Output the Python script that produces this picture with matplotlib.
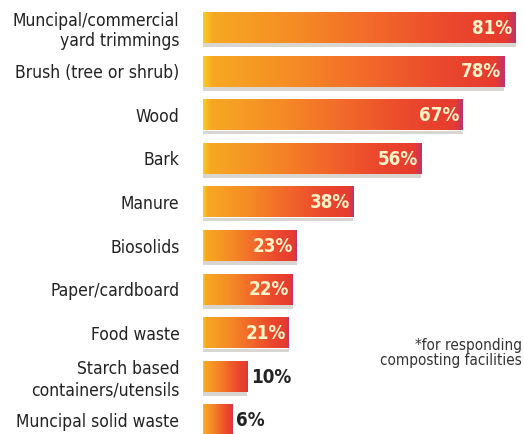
import matplotlib
matplotlib.use('Agg')
import matplotlib.pyplot as plt
import numpy as np
from matplotlib import font_manager
from matplotlib.colors import LinearSegmentedColormap

categories = ['Muncipal/commercial\nyard trimmings', 'Brush (tree or shrub)', 'Wood', 'Bark',
              'Manure', 'Biosolids', 'Paper/cardboard', 'Food waste',
              'Starch based\ncontainers/utensils', 'Muncipal solid waste']
values = [81, 78, 67, 56, 38, 23, 22, 21, 10, 6]
labels = ['81%', '78%', '67%', '56%', '38%', '23%', '22%', '21%', '10%', '6%']
footnote = '*for responding\ncomposting facilities'

# pick a narrow face if one is installed
names = {f.name for f in font_manager.fontManager.ttflist}
stretches = {(f.name, f.stretch) for f in font_manager.fontManager.ttflist}
if 'Liberation Sans Narrow' in names:
    plt.rcParams['font.family'] = ['Liberation Sans Narrow', 'DejaVu Sans']
elif ('DejaVu Sans', 'condensed') in stretches or ('DejaVu Sans', 300) in stretches:
    plt.rcParams['font.family'] = ['DejaVu Sans']
    plt.rcParams['font.stretch'] = 'condensed'
else:
    plt.rcParams['font.family'] = ['Roboto', 'DejaVu Sans']

fig = plt.figure(figsize=(5.24, 4.34), dpi=100)
ax = fig.add_axes([203 / 524, 0, 321 / 524, 1])

y = np.arange(len(values))
x0 = -1.75  # bars start slightly left of zero in the original
height = 0.71
cmap = LinearSegmentedColormap.from_list(
    'grad', [(0.0, '#f8cc22'), (0.03, '#f7a822'), (0.3, '#f58b25'), (0.55, '#f2682a'),
             (0.8, '#eb472d'), (0.97, '#e63b2f'), (1.0, '#c0346a')])
grad = np.linspace(0, 1, 256).reshape(1, -1)

# dotted grey shadow strip under each bar
ax.barh(y + height / 2 + 0.05, np.array(values) - x0, left=x0, height=0.08,
        color='#d9d6d2', zorder=1)

bars = ax.barh(y, np.array(values) - x0, left=x0, height=height,
               color='none', zorder=2)
for bar in bars:
    bx, by = bar.get_x(), bar.get_y()
    im = ax.imshow(grad, extent=[bx, bx + bar.get_width(), by, by + bar.get_height()],
                   aspect='auto', cmap=cmap, zorder=2, interpolation='bilinear')
    im.set_clip_path(bar)

for yi, v, lab in zip(y, values, labels):
    if v > 15:
        ax.text(v - 0.9, yi + 0.02, lab, ha='right', va='center', fontsize=13.5,
                fontweight='bold', color='#fff3c8', zorder=3)
    else:
        ax.text(v + 1.0, yi + 0.02, lab, ha='left', va='center', fontsize=13.5,
                fontweight='bold', color='#222222', zorder=3)

ax.set_xlim(x0, x0 + 321 / 3.78)
ax.set_ylim((434 - 27.5) / 43.6, -27.5 / 43.6)
ax.set_yticks(y)
ax.set_yticklabels(categories, fontsize=12.5, color='#222222')
ax.tick_params(axis='y', length=0, pad=17)
ax.set_xticks([])
for s in ax.spines.values():
    s.set_visible(False)

fig.text(522 / 524, 1 - 353 / 434, footnote, ha='right', va='center',
         fontsize=11, color='#333333', linespacing=1.0)

fig.savefig('out.png', dpi=100)
